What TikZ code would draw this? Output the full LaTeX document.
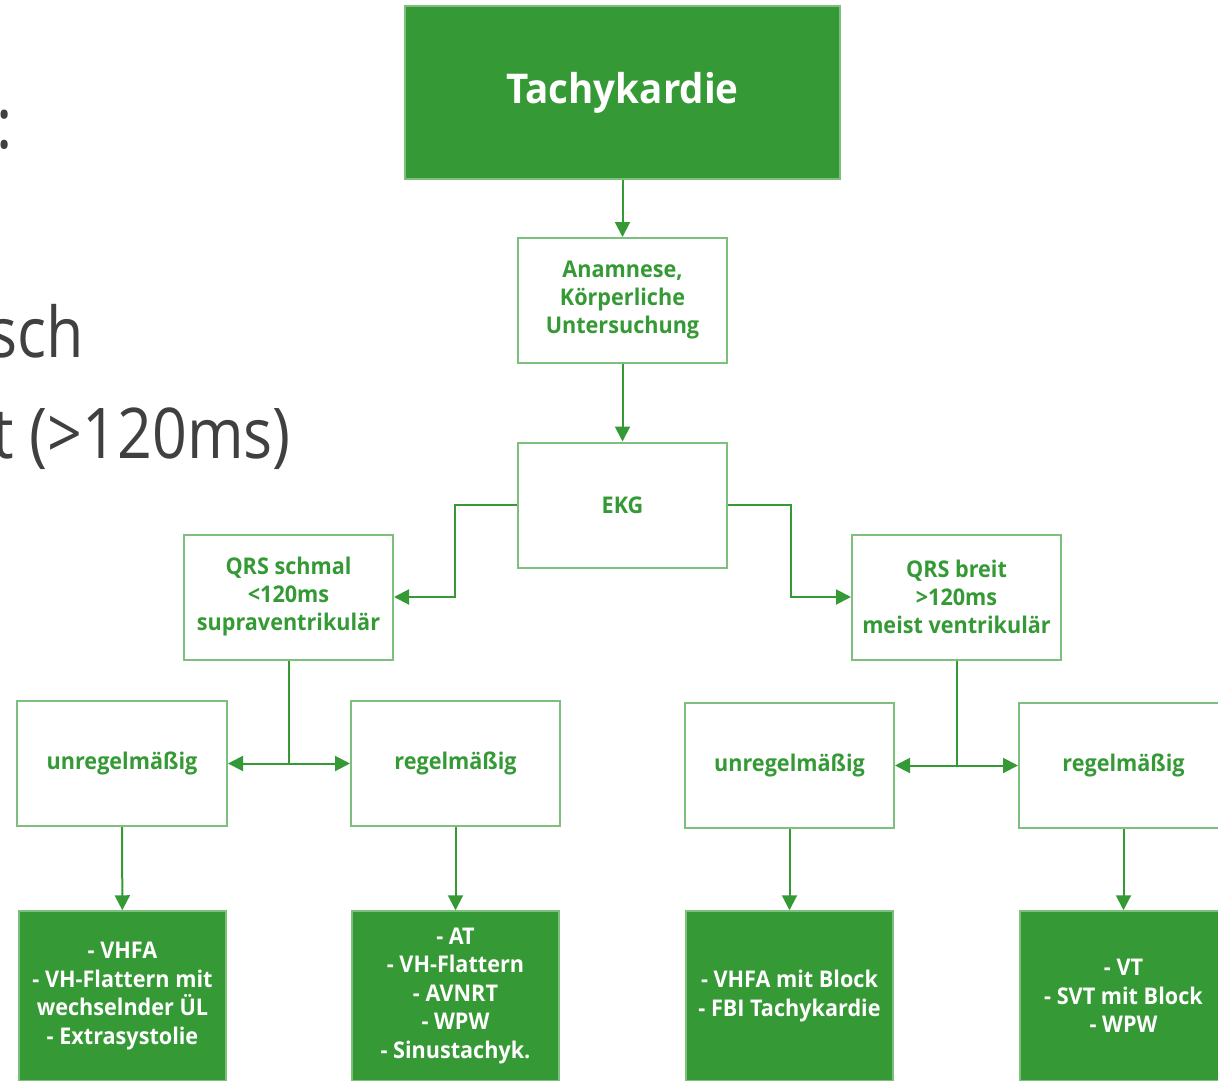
\documentclass[tikz,border=0pt]{standalone}
\usepackage{fontspec}
\setmainfont{Open Sans}
\newfontfamily\boxfont[FakeStretch=0.94]{Open Sans}
\newfontfamily\slidefont[FakeStretch=0.87]{Open Sans}
\usepackage{tikz}
\usetikzlibrary{arrows.meta}

\definecolor{tgreen}{RGB}{53,154,53}
\definecolor{tframe}{RGB}{125,192,125}
\definecolor{slidegray}{RGB}{64,64,64}

\begin{document}
\begin{tikzpicture}[x=1pt, y=-1pt,
    outbox/.style={draw=tframe, line width=2pt, fill=white, text=tgreen,
        minimum width=209pt, minimum height=125pt, align=center,
        font=\boxfont\fontsize{23}{28}\selectfont\bfseries},
    resbox/.style={draw=tframe, line width=1.5pt, fill=tgreen, text=white,
        minimum width=207pt, minimum height=170pt, align=center,
        font=\boxfont\fontsize{23}{28.5}\selectfont\bfseries},
    conn/.style={draw=tgreen, line width=2pt,
        -{Triangle[length=15pt, width=15pt]}},
    slide/.style={text=slidegray, inner sep=0pt, anchor=base east,
        font=\slidefont\fontsize{70}{80}\selectfont}]
    \useasboundingbox (0,0) rectangle (1218,1081);

    % 1. Slide text behind the chart (cut off at the left)
    \node[slide] (colon) at (13,148) {:};
    \node[slide] (sch) at (84,357) {sch};
    \node[slide] (ms) at (291,458) {t (>120ms)};

    % 2. Top of the tree
    \node[resbox, minimum width=435pt, minimum height=173pt,
          font=\boxfont\fontsize{41}{48}\selectfont\bfseries] (tachy) at (622.5,92.5) {Tachykardie};
    \node[outbox] (anam) at (622.5,300.5) {Anamnese,\\Körperliche\\Untersuchung};
    \node[outbox] (ekg) at (622.5,505) {EKG};

    % 3. QRS width
    \node[outbox] (qrsS) at (288.5,597) {QRS schmal\\<120ms\\supraventrikulär};
    \node[outbox] (qrsB) at (956.5,597) {QRS breit\\>120ms\\meist ventrikulär};

    % 4. Rhythm
    \node[outbox, minimum width=210pt] (unregL) at (122,763.5) {unregelmäßig};
    \node[outbox] (regL) at (455.5,763.5) {regelmäßig};
    \node[outbox] (unregR) at (789.5,765.5) {unregelmäßig};
    \node[outbox] (regR) at (1123.5,765.5) {regelmäßig};

    % 5. Results (bottom row, cut off by the page)
    \node[resbox] (resA) at (122.5,996) {- VHFA\\- VH-Flattern mit\\wechselnder ÜL\\- Extrasystolie};
    \node[resbox] (resB) at (455.5,996) {- AT\\- VH-Flattern\\- AVNRT\\- WPW\\- Sinustachyk.};
    \node[resbox] (resC) at (789.5,996) {- VHFA mit Block\\- FBI Tachykardie};
    \node[resbox] (resD) at (1123.5,996) {- VT\\- SVT mit Block\\- WPW};

    % 6. Connectors
    \draw[conn] (tachy) -- (anam);
    \draw[conn] (anam) -- (ekg);
    \draw[conn] (ekg.west) -- ++(-62,0) |- (qrsS.east);
    \draw[conn] (ekg.east) -- ++(63,0) |- (qrsB.west);
    \draw[conn] (qrsS.south) |- (unregL.east);
    \draw[conn] (qrsS.south) |- (regL.west);
    \draw[conn] (qrsB.south) |- (unregR.east);
    \draw[conn] (qrsB.south) |- (regR.west);
    \draw[conn] (unregL) -- (resA);
    \draw[conn] (regL) -- (resB);
    \draw[conn] (unregR) -- (resC);
    \draw[conn] (regR) -- (resD);
\end{tikzpicture}
\end{document}
